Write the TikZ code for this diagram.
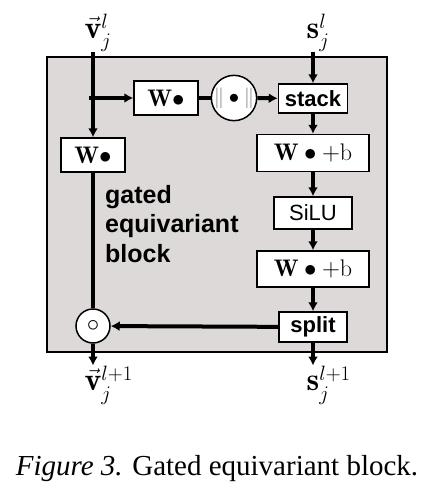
\documentclass[tikz,border=0pt]{standalone}
\usepackage{amsmath,amssymb}
\usepackage{mathtools}
\usepackage{fontspec}
\setsansfont{Liberation Sans}
\newfontfamily\captionfont{Liberation Serif}
\usetikzlibrary{arrows.meta, positioning}
\definecolor{blockgray}{RGB}{222,217,217}

\tikzset{
  wire/.style={line width=4pt},
  flow/.style={wire, -{Latex[length=9pt,width=10pt]}},
  opbox/.style={draw, fill=white, line width=1.5pt, inner sep=0pt, font=\fontsize{24}{28}\selectfont},
  wordbox/.style={opbox, font=\sffamily\bfseries\fontsize{22}{26}\selectfont},
  opcirc/.style={draw, circle, fill=white, line width=1.5pt, minimum size=34pt, inner sep=0pt, font=\fontsize{20}{24}\selectfont},
  lbl/.style={font=\fontsize{32}{36}\selectfont, inner sep=0pt},
}

\begin{document}
\begin{tikzpicture}[x=1pt, y=-1pt, >={Latex[length=9pt,width=10pt]}]
\useasboundingbox (0,0) rectangle (425,495);
\draw[line width=1.5pt, fill=blockgray](47,57) rectangle (387,352);

% inputs and outputs
\node[lbl, anchor=base] (vin) at (93,38) {$\vec{\mathbf v}\mathrlap{\vphantom{\vec{\mathbf v}}_j^l}$};
\node[lbl, anchor=base] (sin) at (313,38) {$\mathbf s\mathrlap{_j^l}$};
\node[lbl, anchor=base] (vout) at (93,390) {$\vec{\mathbf v}\mathrlap{\vphantom{\vec{\mathbf v}}_j^{l+1}}$};
\node[lbl, anchor=base] (sout) at (313,390) {$\mathbf s\mathrlap{_j^{l+1}}$};

% vector branch
\coordinate (fork) at (93,98);
\node[opbox, minimum width=64pt, minimum height=34pt] (wnorm) at (166,98) {$\mathbf{W}\bullet$};
\node[opcirc] (norm) at (234,98) {$\textcolor{gray}{\|}\bullet\textcolor{gray}{\|}$};
\node[opbox, minimum width=64pt, minimum height=34pt] (wleft) at (93,155) {$\mathbf{W}\bullet$};
\node[opcirc, font=\fontsize{30}{34}\selectfont] (had) at (93,326) {$\circ$};

% scalar branch
\node[wordbox, minimum width=69pt, minimum height=29pt] (stack) at (313,98.5) {stack};
\node[opbox, minimum width=112pt, minimum height=37pt] (wb1) at (313,153) {$\mathbf{W}\bullet+\mathrm{b}$};
\node[opbox, font=\sffamily\fontsize{22}{26}\selectfont, minimum width=78pt, minimum height=32pt] (silu) at (313,213) {SiLU};
\node[opbox, minimum width=112pt, minimum height=36pt] (wb2) at (313,269) {$\mathbf{W}\bullet+\mathrm{b}$};
\node[wordbox, minimum width=68pt, minimum height=30pt] (split) at (313,327) {split};

\node[inner sep=0pt, anchor=north west, align=left, font=\sffamily\bfseries\fontsize{25}{29.5}\selectfont] (title) at (105,185) {gated\\equivariant\\block};

% connectors
\draw[flow] (vin) -- (wleft);
\draw[flow] ([xshift=-4pt]fork) -- (wnorm);
\draw[wire] (wnorm) -- (norm);
\draw[flow] (norm) -- (stack);
\draw[flow] (sin) -- (stack);
\draw[flow] (stack) -- (wb1);
\draw[flow] (wb1) -- (silu);
\draw[flow] (silu) -- (wb2);
\draw[flow] (wb2) -- (split);
\draw[flow] (split) -- (had);
\draw[wire] (wleft) -- (had);
\draw[flow] (had) -- (vout);
\draw[flow] (split) -- (sout);

\node[font=\captionfont\fontsize{29}{34}\selectfont, anchor=base] (caption) at (217,475) {\textit{Figure 3.} Gated equivariant block.};
\end{tikzpicture}
\end{document}
